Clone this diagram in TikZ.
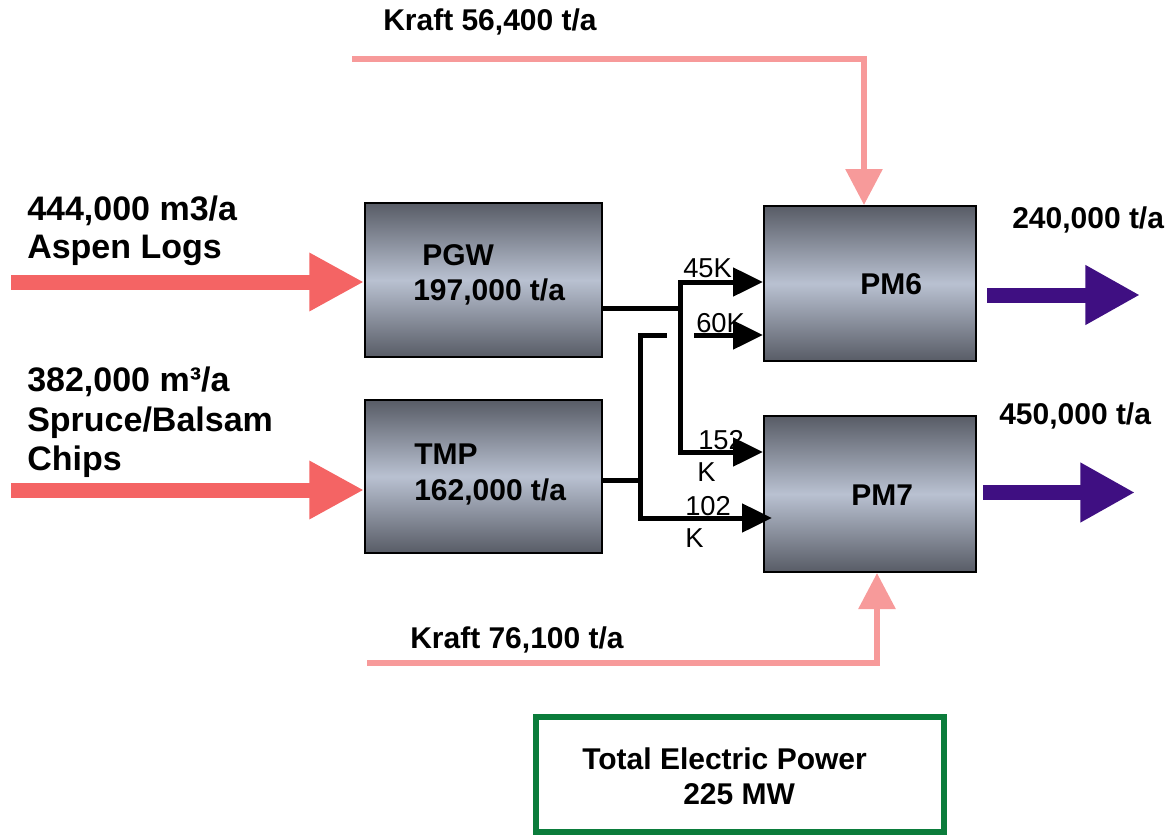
\documentclass[tikz,border=0pt]{standalone}
\usepackage{fontspec}
\setmainfont{Liberation Sans}
\usetikzlibrary{arrows.meta}
\definecolor{boxdark}{HTML}{585C66}
\definecolor{boxlight}{HTML}{B9C1D1}
\definecolor{feedred}{HTML}{F46464}
\definecolor{kraftpink}{HTML}{F79A9A}
\definecolor{outpurple}{HTML}{3F0F82}
\definecolor{powergreen}{HTML}{0B7C3B}
\begin{document}
\begin{tikzpicture}[x=0.75pt,y=-0.75pt,
 unitbox/.style={draw=black,line width=1.5pt,top color=boxdark,bottom color=boxdark,middle color=boxlight,inner sep=0pt},
 lbl/.style={anchor=base west,inner sep=0pt,font=\fontsize{22.5}{27}\selectfont\bfseries},
 biglbl/.style={anchor=base west,inner sep=0pt,font=\fontsize{25.5}{30}\selectfont\bfseries},
 smalllbl/.style={anchor=base west,inner sep=0pt,font=\fontsize{20.5}{24}\selectfont},
 pulp/.style={line width=3.75pt,-{Triangle[length=22.5pt,width=21pt]}},
 pulpline/.style={line width=3.75pt},
 feed/.style={feedred,line width=11.25pt,-{Triangle[length=41pt,width=41pt]}},
 product/.style={outpurple,line width=11.25pt,-{Triangle[length=41pt,width=42pt]}},
 kraft/.style={kraftpink,line width=4.5pt,-{Triangle[length=27pt,width=27pt]}}]
\useasboundingbox (0,0) rectangle (1172,835);

% unit boxes
\node[unitbox,minimum width=177.75pt,minimum height=115.5pt] (pgw) at (483.5,280) {};
\node[unitbox,minimum width=177.75pt,minimum height=114.75pt] (tmp) at (483.5,476.5) {};
\node[unitbox,minimum width=159pt,minimum height=116.25pt] (pm6) at (870,283.5) {};
\node[unitbox,minimum width=159pt,minimum height=117pt] (pm7) at (870,494) {};

% box texts
\node[lbl] (tpgw) at (422,265) {PGW};
\node[lbl] (tpgwv) at (413,300) {197,000 t/a};
\node[lbl] (ttmp) at (414,464) {TMP};
\node[lbl] (ttmpv) at (414,500) {162,000 t/a};
\node[lbl] (tpm6) at (860,294) {PM6};
\node[lbl] (tpm7) at (851,505) {PM7};

% feed labels
\node[biglbl] (aspA) at (27,220) {444,000 m3/a};
\node[biglbl] (aspB) at (27,258) {Aspen Logs};
\node[biglbl] (sprA) at (27,391) {382,000 m³/a};
\node[biglbl] (sprB) at (27,431) {Spruce/Balsam};
\node[biglbl] (sprC) at (27,470) {Chips};

% product labels
\node[lbl] (o6) at (1012,228) {240,000 t/a};
\node[lbl] (o7) at (999,424) {450,000 t/a};

% kraft labels
\node[lbl] (kA) at (383,31) {Kraft 56,400 t/a};
\node[lbl] (kB) at (410,648) {Kraft 76,100 t/a};

% small flow labels
\node[smalllbl] (f45) at (683,277) {45K};
\node[smalllbl] (f60) at (696,332) {60K};
\node[smalllbl] (f152) at (698,449) {152};
\node[smalllbl] (f152k) at (697,481) {K};
\node[smalllbl] (f102) at (685,515) {102};
\node[smalllbl] (f102k) at (685,547) {K};

% feed arrows
\coordinate (aspen) at (11,282);
\coordinate (spruce) at (11,490);
\draw[feed] (aspen) -- (aspen -| pgw.west);
\draw[feed] (spruce) -- (spruce -| tmp.west);

% product arrows
\coordinate (p6a) at (987,295);
\coordinate (p6b) at (1140,295);
\coordinate (p7a) at (983,492.5);
\coordinate (p7b) at (1135,492.5);
\draw[product] (p6a) -- (p6b);
\draw[product] (p7a) -- (p7b);

% kraft lines
\coordinate (kraftA) at (352,59);
\coordinate (kraftB) at (367,663);
\draw[kraft] (kraftA) -| ([xshift=-4.5pt]pm6.north);
\draw[kraft] (kraftB) -| ([xshift=5.25pt]pm7.south);

% pulp lines from PGW
\coordinate (ja) at (680,308);
\coordinate (r45) at (680,282);
\coordinate (r152) at (680,452);
\draw[pulpline] (pgw.east |- ja) -- (ja);
\draw[pulp] (r152) -- (r45) -- (r45 -| pm6.west);
\draw[pulp] (r45) -- (r152) -- (r152 -| pm7.west);

% pulp lines from TMP
\coordinate (jb) at (640,480);
\coordinate (r60) at (640,335);
\coordinate (r102) at (640,518);
\coordinate (gapL) at (667,335);
\coordinate (gapR) at (694,335);
\coordinate (t102) at (772,518);
\draw[pulpline] (tmp.east |- jb) -- (jb);
\draw[pulpline] (r102) -- (r60) -- (gapL);
\draw[pulp] (r60) -- (r102) -- (t102);
\draw[pulp] (gapR) -- (gapR -| pm6.west);

% power box
\node[draw=powergreen,line width=4.5pt,minimum width=306pt,minimum height=86.25pt,inner sep=0pt] (power) at (740,774) {};
\node[lbl] (pw1) at (582,769) {Total Electric Power};
\node[lbl] (pw2) at (683,804) {225 MW};
\end{tikzpicture}
\end{document}
